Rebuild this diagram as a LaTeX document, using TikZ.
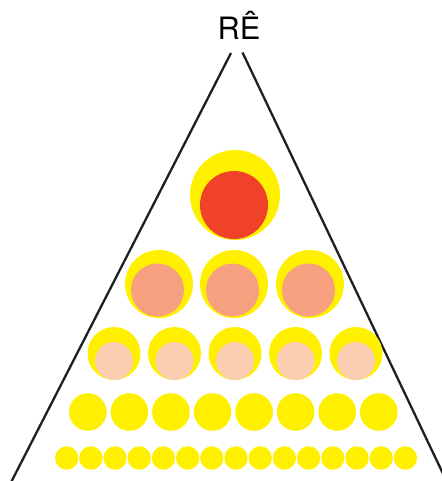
\documentclass[tikz,border=0pt]{standalone}
\usepackage{fontspec}
\setmainfont{TeX Gyre Heros}
\definecolor{ylw}{HTML}{FFF000}
\definecolor{redc}{HTML}{F04129}
\definecolor{salm}{HTML}{F6A07F}
\definecolor{peach}{HTML}{FBCEB1}
\begin{document}
\begin{tikzpicture}[x=1pt,y=-1pt,
  dot/.style={circle,inner sep=0pt,draw=none,fill=#1},
  edge/.style={line width=2.3pt,draw=black!88}]
\useasboundingbox (0,0) rectangle (441,481);
\node[font=\fontsize{30.8}{34}\selectfont,anchor=base] (title) at (239,39.5) {RÊ};
% sides
\coordinate (lt) at (231,53);
\coordinate (lb) at (11.2,482);
\coordinate (rt) at (242.5,52.5);
\coordinate (rb) at (446.5,481);
\draw[edge] (lt) -- (lb);
\draw[edge] (rt) -- (rb);
% top
\node[dot=ylw,minimum size=90pt] (t0) at (235,195) {};
\node[dot=redc,minimum size=68pt] (t0i) at (234,205) {};
% row 2
\foreach \i/\x in {1/159,2/234,3/310}{
  \node[dot=ylw,minimum size=68pt] (a\i) at (\x,284) {};
  \node[dot=salm,minimum size=53pt] (a\i i) at (\x-1.5,290) {};
}
% row 3
\foreach \i in {0,...,4}{
  \node[dot=ylw,minimum size=53pt] (b\i) at (114+60.5*\i,353.5) {};
  \node[dot=peach,minimum size=38pt] (b\i i) at (114+60.5*\i,361) {};
}
% row 4
\foreach \i in {0,...,7}{
  \node[dot=ylw,minimum size=37.6pt] (c\i) at (87.8+41.57*\i,412) {};
}
% row 5
\foreach \i in {0,...,14}{
  \node[dot=ylw,minimum size=23.4pt] (d\i) at (66.7+24.19*\i,458) {};
}
\end{tikzpicture}
\end{document}
